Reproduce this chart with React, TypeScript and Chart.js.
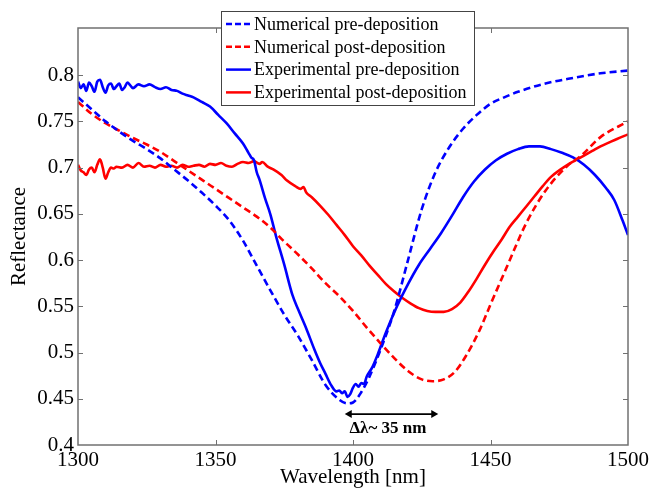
import React, { useEffect, useRef } from "react";
import { Chart, registerables } from "chart.js";

Chart.register(...registerables);

const FONT = "'Liberation Serif', 'Times New Roman', serif";

const X_TICKS = [1300, 1350, 1400, 1450, 1500];
const Y_TICKS = [0.4, 0.45, 0.5, 0.55, 0.6, 0.65, 0.7, 0.75, 0.8];
const X_RANGE = [1300, 1500];
const Y_RANGE = [0.4, 0.851];

const X_TITLE = "Wavelength [nm]";
const Y_TITLE = "Reflectance";

const LEGEND_LABELS = [
  "Numerical pre-deposition",
  "Numerical post-deposition",
  "Experimental pre-deposition",
  "Experimental post-deposition",
];
const SERIES_COLORS = ["#0000ff", "#ff0000", "#0000ff", "#ff0000"];
const SERIES_DASHED = [true, true, false, false];

const ARROW_X = [1397, 1431];
const ARROW_Y = 0.4335;
const ARROW_LABEL = "Δλ~ 35 nm";
const ARROW_LABEL_X = 1412.7;
const ARROW_LABEL_Y = 0.4175;

const NUM_PRE_X = [1300, 1305, 1310, 1315, 1320, 1325, 1330, 1335, 1340, 1345, 1350, 1355, 1360, 1365, 1370, 1375, 1380, 1385, 1390, 1395, 1398, 1400, 1403, 1406, 1410, 1415, 1420, 1425, 1430, 1435, 1440, 1445, 1450, 1455, 1460, 1470, 1480, 1490, 1500];
const NUM_PRE_Y = [0.776, 0.763, 0.75, 0.739, 0.729, 0.72, 0.71, 0.698, 0.686, 0.673, 0.659, 0.643, 0.621, 0.594, 0.567, 0.541, 0.518, 0.492, 0.465, 0.449, 0.445, 0.446, 0.457, 0.474, 0.503, 0.545, 0.6, 0.655, 0.695, 0.722, 0.742, 0.757, 0.769, 0.776, 0.782, 0.791, 0.797, 0.802, 0.805];

const NUM_POST_X = [1300, 1305, 1310, 1315, 1320, 1325, 1330, 1335, 1340, 1345, 1350, 1355, 1360, 1365, 1370, 1375, 1380, 1385, 1390, 1395, 1400, 1405, 1410, 1415, 1420, 1425, 1429, 1433, 1437, 1441, 1446, 1450, 1456, 1463, 1470, 1478, 1483, 1490, 1500];
const NUM_POST_Y = [0.771, 0.758, 0.748, 0.74, 0.732, 0.725, 0.717, 0.707, 0.697, 0.687, 0.677, 0.667, 0.657, 0.647, 0.635, 0.62, 0.606, 0.591, 0.575, 0.561, 0.545, 0.527, 0.51, 0.494, 0.48, 0.471, 0.469, 0.471, 0.479, 0.496, 0.524, 0.552, 0.593, 0.64, 0.675, 0.702, 0.713, 0.733, 0.75];

const EXP_PRE_X = [1300, 1301, 1302, 1303, 1304, 1305, 1306, 1307, 1308, 1309, 1310, 1311, 1312, 1313, 1314, 1315, 1316, 1317, 1318, 1319, 1320, 1322, 1324, 1326, 1328, 1330, 1332, 1334, 1336, 1338, 1340, 1342, 1345, 1348, 1351, 1354, 1357, 1360, 1362, 1363, 1364, 1365, 1366, 1368, 1370, 1372, 1375, 1378, 1380, 1383, 1386, 1388, 1390, 1392, 1394, 1395, 1396, 1397, 1398, 1399, 1400, 1401, 1402, 1403, 1404, 1405, 1407, 1409, 1412, 1416, 1420, 1424, 1428, 1432, 1436, 1440, 1444, 1448, 1452, 1456, 1460, 1464, 1468, 1472, 1476, 1480, 1484, 1488, 1492, 1495, 1498, 1500];
const EXP_PRE_Y = [0.793, 0.786, 0.79, 0.783, 0.792, 0.788, 0.782, 0.793, 0.795, 0.787, 0.781, 0.789, 0.791, 0.785, 0.788, 0.791, 0.784, 0.787, 0.792, 0.789, 0.786, 0.79, 0.788, 0.79, 0.787, 0.785, 0.787, 0.784, 0.783, 0.78, 0.778, 0.776, 0.771, 0.766, 0.757, 0.748, 0.737, 0.726, 0.716, 0.711, 0.708, 0.695, 0.687, 0.667, 0.649, 0.626, 0.595, 0.562, 0.547, 0.526, 0.503, 0.489, 0.477, 0.465, 0.458, 0.459, 0.456, 0.458, 0.452, 0.455, 0.462, 0.466, 0.463, 0.467, 0.466, 0.474, 0.484, 0.498, 0.522, 0.55, 0.574, 0.595, 0.612, 0.629, 0.648, 0.668, 0.685, 0.698, 0.708, 0.715, 0.72, 0.723, 0.723, 0.72, 0.716, 0.711, 0.703, 0.692, 0.678, 0.665, 0.643, 0.627];

const EXP_POST_X = [1300, 1301, 1302, 1303, 1304, 1305, 1306, 1307, 1308, 1309, 1310, 1311, 1312, 1313, 1314, 1316, 1318, 1320, 1322, 1324, 1326, 1328, 1330, 1332, 1334, 1336, 1338, 1340, 1342, 1344, 1346, 1348, 1350, 1352, 1354, 1356, 1358, 1360, 1362, 1364, 1366, 1367, 1369, 1371, 1374, 1376, 1379, 1381, 1382, 1383, 1385, 1388, 1391, 1394, 1397, 1400, 1403, 1406, 1409, 1412, 1415, 1418, 1421, 1424, 1427, 1430, 1433, 1436, 1439, 1442, 1445, 1448, 1451, 1454, 1457, 1460, 1463, 1466, 1469, 1472, 1475, 1478, 1481, 1484, 1487, 1490, 1493, 1496, 1500];
const EXP_POST_Y = [0.703, 0.697, 0.695, 0.692, 0.698, 0.7, 0.695, 0.703, 0.709, 0.7, 0.688, 0.695, 0.7, 0.699, 0.701, 0.7, 0.703, 0.7, 0.705, 0.701, 0.702, 0.7, 0.703, 0.701, 0.702, 0.7, 0.703, 0.701, 0.702, 0.703, 0.701, 0.704, 0.703, 0.705, 0.702, 0.701, 0.704, 0.706, 0.705, 0.707, 0.704, 0.706, 0.701, 0.698, 0.692, 0.686, 0.68, 0.677, 0.679, 0.673, 0.668, 0.659, 0.649, 0.638, 0.627, 0.615, 0.605, 0.594, 0.584, 0.574, 0.566, 0.559, 0.553, 0.548, 0.545, 0.544, 0.544, 0.547, 0.554, 0.566, 0.58, 0.595, 0.609, 0.622, 0.636, 0.647, 0.658, 0.669, 0.68, 0.69, 0.697, 0.703, 0.708, 0.713, 0.718, 0.723, 0.727, 0.731, 0.736];

const SERIES_X = [NUM_PRE_X, NUM_POST_X, EXP_PRE_X, EXP_POST_X];
const SERIES_Y = [NUM_PRE_Y, NUM_POST_Y, EXP_PRE_Y, EXP_POST_Y];

const AXIS_COLOR = "#707070";

const framePlugin = {
  id: "frame",
  afterDatasetsDraw(chart: any) {
    const { ctx, chartArea: a, scales } = chart;
    const xs = scales.x;
    const ys = scales.y;
    ctx.save();
    ctx.strokeStyle = AXIS_COLOR;
    ctx.lineWidth = 1.5;
    ctx.strokeRect(a.left, a.top, a.right - a.left, a.bottom - a.top);
    ctx.lineWidth = 1;
    const tl = 5;
    ctx.beginPath();
    X_TICKS.forEach((v) => {
      const px = Math.round(xs.getPixelForValue(v)) + 0.5;
      if (px <= a.left + 1 || px >= a.right - 1) return;
      ctx.moveTo(px, a.bottom);
      ctx.lineTo(px, a.bottom - tl);
      ctx.moveTo(px, a.top);
      ctx.lineTo(px, a.top + tl);
    });
    Y_TICKS.forEach((v) => {
      const py = Math.round(ys.getPixelForValue(v)) + 0.5;
      if (py <= a.top + 1 || py >= a.bottom - 1) return;
      ctx.moveTo(a.left, py);
      ctx.lineTo(a.left + tl, py);
      ctx.moveTo(a.right, py);
      ctx.lineTo(a.right - tl, py);
    });
    ctx.stroke();

    // annotation arrow
    const x1 = xs.getPixelForValue(ARROW_X[0]);
    const x2 = xs.getPixelForValue(ARROW_X[1]);
    const ay = ys.getPixelForValue(ARROW_Y);
    ctx.strokeStyle = "#000";
    ctx.fillStyle = "#000";
    ctx.lineWidth = 1.8;
    ctx.beginPath();
    ctx.moveTo(x1 + 4, ay);
    ctx.lineTo(x2 - 4, ay);
    ctx.stroke();
    const head = 7;
    ctx.beginPath();
    ctx.moveTo(x1, ay);
    ctx.lineTo(x1 + head, ay - 4);
    ctx.lineTo(x1 + head, ay + 4);
    ctx.closePath();
    ctx.fill();
    ctx.beginPath();
    ctx.moveTo(x2, ay);
    ctx.lineTo(x2 - head, ay - 4);
    ctx.lineTo(x2 - head, ay + 4);
    ctx.closePath();
    ctx.fill();
    ctx.font = "bold 17px " + FONT;
    ctx.textAlign = "center";
    ctx.textBaseline = "middle";
    ctx.fillText(ARROW_LABEL, xs.getPixelForValue(ARROW_LABEL_X), ys.getPixelForValue(ARROW_LABEL_Y));
    ctx.restore();
  },
  afterDraw(chart: any) {
    const { ctx } = chart;
    const bx = 221;
    const by = 11;
    const bw = 253;
    const bh = 94;
    ctx.save();
    ctx.fillStyle = "#ffffff";
    ctx.fillRect(bx, by, bw, bh);
    ctx.strokeStyle = "#444";
    ctx.lineWidth = 1;
    ctx.strokeRect(bx + 0.5, by + 0.5, bw, bh);
    ctx.font = "18px " + FONT;
    ctx.textBaseline = "middle";
    ctx.textAlign = "left";
    LEGEND_LABELS.forEach((label, i) => {
      const cy = 24 + i * 22.8;
      ctx.strokeStyle = SERIES_COLORS[i];
      ctx.lineWidth = 2.5;
      ctx.setLineDash(SERIES_DASHED[i] ? [6, 3] : []);
      ctx.beginPath();
      ctx.moveTo(226, cy);
      ctx.lineTo(251, cy);
      ctx.stroke();
      ctx.setLineDash([]);
      ctx.fillStyle = "#000";
      ctx.fillText(label, 254, cy + 1);
    });
    ctx.restore();
  },
};

export default function App() {
  const ref = useRef<HTMLCanvasElement | null>(null);

  useEffect(() => {
    document.body.style.margin = "0";
    const canvas = ref.current;
    if (!canvas) return;
    const datasets = LEGEND_LABELS.map((label, i) => ({
      label,
      data: SERIES_X[i].map((x, j) => ({ x, y: SERIES_Y[i][j] })),
      borderColor: SERIES_COLORS[i],
      backgroundColor: SERIES_COLORS[i],
      borderWidth: 2.6,
      borderDash: SERIES_DASHED[i] ? [7, 4] : [],
      pointRadius: 0,
      showLine: true,
      fill: false,
      cubicInterpolationMode: "monotone" as const,
    }));
    const chart = new Chart(canvas, {
      type: "scatter",
      data: { datasets },
      options: {
        responsive: false,
        animation: false,
        devicePixelRatio: 1,
        layout: { padding: { left: 0, top: 28, right: 26, bottom: 0 } },
        plugins: {
          legend: { display: false },
          tooltip: { enabled: false },
        },
        scales: {
          x: {
            type: "linear",
            min: X_RANGE[0],
            max: X_RANGE[1],
            grid: { display: false, drawTicks: false },
            border: { display: false },
            afterBuildTicks: (s: any) => {
              s.ticks = X_TICKS.map((v) => ({ value: v }));
            },
            afterFit: (s: any) => {
              s.height = 48;
            },
            ticks: {
              autoSkip: false,
              maxRotation: 0,
              padding: 3,
              color: "#000",
              font: { family: FONT, size: 21 },
              callback: (v: any) => String(v),
            },
            title: {
              display: true,
              text: X_TITLE,
              color: "#000",
              font: { family: FONT, size: 21 },
              padding: { top: 0, bottom: 3 },
            },
          },
          y: {
            type: "linear",
            min: Y_RANGE[0],
            max: Y_RANGE[1],
            grid: { display: false, drawTicks: false },
            border: { display: false },
            afterBuildTicks: (s: any) => {
              s.ticks = Y_TICKS.map((v) => ({ value: v }));
            },
            afterFit: (s: any) => {
              s.width = 78;
            },
            ticks: {
              autoSkip: false,
              padding: 4,
              color: "#000",
              font: { family: FONT, size: 21 },
              callback: (v: any) => String(Math.round(v * 100) / 100),
            },
            title: {
              display: true,
              text: Y_TITLE,
              color: "#000",
              font: { family: FONT, size: 21 },
              padding: { top: 7, bottom: 0 },
            },
          },
        },
      },
      plugins: [framePlugin],
    });
    return () => chart.destroy();
  }, []);

  return (
    <div style={{ position: "absolute", left: 0, top: 0, width: 654, height: 493, background: "#fff" }}>
      <canvas ref={ref} width={654} height={493} style={{ display: "block" }} />
    </div>
  );
}
